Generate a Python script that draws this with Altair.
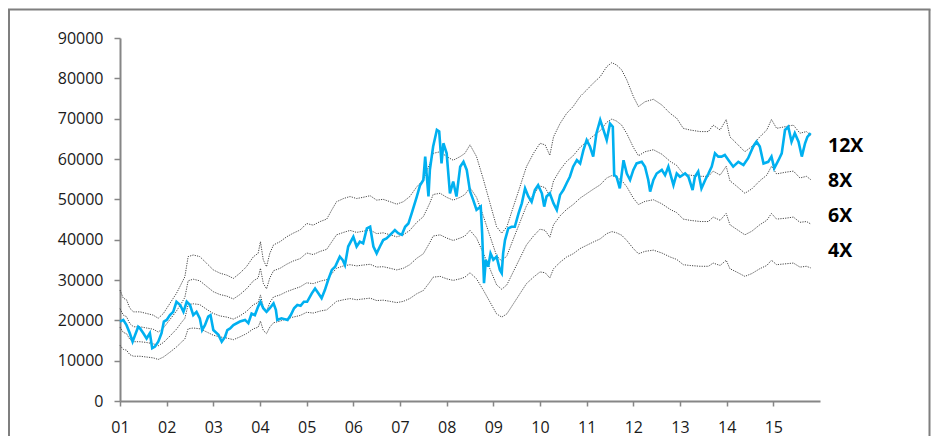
import altair as alt
import pandas as pd

# ---- data ----
band_years = [2001.00, 2001.07, 2001.14, 2001.21, 2001.29, 2001.43, 2001.57, 2001.71, 2001.82, 2001.93,
              2002.07, 2002.21, 2002.32, 2002.39, 2002.46, 2002.57, 2002.71, 2002.86, 2003.00, 2003.14,
              2003.29, 2003.43, 2003.57, 2003.71, 2003.86, 2003.96, 2004.01, 2004.07, 2004.14, 2004.21,
              2004.29, 2004.43, 2004.57, 2004.71, 2004.86, 2005.00, 2005.14, 2005.29, 2005.43, 2005.54,
              2005.64, 2005.79, 2005.93, 2006.07, 2006.21, 2006.36, 2006.50, 2006.64, 2006.79, 2006.93,
              2007.07, 2007.21, 2007.36, 2007.50, 2007.64, 2007.71, 2007.86, 2008.00, 2008.14, 2008.29,
              2008.39, 2008.50, 2008.64, 2008.79, 2008.93, 2009.07, 2009.18, 2009.29, 2009.43, 2009.57,
              2009.71, 2009.86, 2010.00, 2010.11, 2010.21, 2010.29, 2010.43, 2010.57, 2010.71, 2010.86,
              2011.00, 2011.14, 2011.29, 2011.43, 2011.54, 2011.64, 2011.75, 2011.86, 2012.00, 2012.11,
              2012.25, 2012.43, 2012.61, 2012.79, 2012.93, 2013.07, 2013.21, 2013.43, 2013.61, 2013.71,
              2013.86, 2013.99, 2014.07, 2014.21, 2014.39, 2014.54, 2014.71, 2014.86, 2014.96, 2015.07,
              2015.25, 2015.43, 2015.57, 2015.71, 2015.80]

band_12x = [27500, 25500, 25100, 23000, 22100, 22100, 21700, 21300, 20500, 21700,
            24200, 26700, 29200, 30800, 35800, 36200, 35800, 34100, 32500, 31700,
            31200, 30400, 31700, 33300, 35800, 36600, 39500, 35000, 33300, 36600,
            38700, 39500, 40700, 41600, 42400, 44000, 43600, 44500, 45100, 47400,
            49400, 50200, 50700, 50200, 50500, 50900, 49800, 50000, 49400, 48800,
            49400, 50700, 53100, 54800, 58900, 61400, 61800, 60600, 59700, 60600,
            61400, 63500, 60600, 54800, 49000, 43200, 41600, 43200, 48200, 53100,
            58100, 61400, 63900, 63500, 60900, 65500, 68800, 71300, 73000, 75500,
            77100, 78800, 80400, 82900, 83900, 83300, 82100, 79600, 75500, 73000,
            74200, 74800, 73400, 71300, 70100, 67600, 67200, 66800, 66800, 68400,
            67200, 69800, 65500, 63900, 61800, 63100, 65500, 67200, 69800, 67600,
            68000, 68400, 66400, 66800, 65900]

band_8x = [22900, 21300, 20900, 19200, 18400, 18400, 18100, 17800, 17100, 18100,
           20200, 22300, 24300, 25700, 29800, 30200, 29800, 28400, 27100, 26400,
           26000, 25300, 26400, 27800, 29800, 30500, 32900, 29200, 27800, 30500,
           32300, 32900, 33900, 34700, 35300, 36700, 36300, 37100, 37600, 39500,
           41200, 41800, 42300, 41800, 42100, 42400, 41500, 41700, 41200, 40700,
           41200, 42300, 44300, 45700, 49100, 51200, 51500, 50500, 49800, 50500,
           51200, 52900, 50500, 45700, 40800, 36000, 34700, 36000, 40200, 44300,
           48400, 51200, 53300, 52900, 50800, 54600, 57300, 59400, 60800, 62900,
           64300, 65700, 67000, 69100, 69900, 69400, 68400, 66300, 62900, 60800,
           61800, 62300, 61200, 59400, 58400, 56300, 56000, 55700, 55700, 57000,
           56000, 58200, 54600, 53300, 51500, 52600, 54600, 56000, 58200, 56300,
           56700, 57000, 55300, 55700, 54900]

band_6x = [18300, 17000, 16700, 15300, 14700, 14700, 14500, 14200, 13700, 14500,
           16100, 17800, 19500, 20500, 23900, 24100, 23900, 22700, 21700, 21100,
           20800, 20300, 21100, 22200, 23900, 24400, 26300, 23300, 22200, 24400,
           25800, 26300, 27100, 27700, 28300, 29300, 29100, 29700, 30100, 31600,
           32900, 33500, 33800, 33500, 33700, 33900, 33200, 33300, 32900, 32500,
           32900, 33800, 35400, 36500, 39300, 40900, 41200, 40400, 39800, 40400,
           40900, 42300, 40400, 36500, 32700, 28800, 27700, 28800, 32100, 35400,
           38700, 40900, 42600, 42300, 40600, 43700, 45900, 47500, 48700, 50300,
           51400, 52500, 53600, 55300, 55900, 55500, 54700, 53100, 50300, 48700,
           49500, 49900, 48900, 47500, 46700, 45100, 44800, 44500, 44500, 45600,
           44800, 46500, 43700, 42600, 41200, 42100, 43700, 44800, 46500, 45100,
           45300, 45600, 44300, 44500, 43900]

band_4x = [13800, 12800, 12600, 11500, 11100, 11100, 10900, 10700, 10300, 10900,
           12100, 13400, 14600, 15400, 17900, 18100, 17900, 17100, 16300, 15900,
           15600, 15200, 15900, 16700, 17900, 18300, 19800, 17500, 16700, 18300,
           19400, 19800, 20400, 20800, 21200, 22000, 21800, 22300, 22600, 23700,
           24700, 25100, 25400, 25100, 25300, 25500, 24900, 25000, 24700, 24400,
           24700, 25400, 26600, 27400, 29500, 30700, 30900, 30300, 29900, 30300,
           30700, 31800, 30300, 27400, 24500, 21600, 20800, 21600, 24100, 26600,
           29100, 30700, 32000, 31800, 30500, 32800, 34400, 35700, 36500, 37800,
           38600, 39400, 40200, 41500, 42000, 41700, 41100, 39800, 37800, 36500,
           37100, 37400, 36700, 35700, 35100, 33800, 33600, 33400, 33400, 34200,
           33600, 34900, 32800, 32000, 30900, 31600, 32800, 33600, 34900, 33800,
           34000, 34200, 33200, 33400, 33000]

main_years = [2001.00, 2001.07, 2001.14, 2001.21, 2001.27, 2001.39, 2001.43, 2001.50, 2001.57, 2001.64,
              2001.69, 2001.75, 2001.82, 2001.89, 2001.94, 2002.00, 2002.07, 2002.14, 2002.21, 2002.29,
              2002.36, 2002.43, 2002.50, 2002.57, 2002.64, 2002.71, 2002.76, 2002.82, 2002.89, 2002.94,
              2003.00, 2003.11, 2003.18, 2003.25, 2003.30, 2003.36, 2003.43, 2003.57, 2003.68, 2003.75,
              2003.82, 2003.89, 2003.96, 2004.01, 2004.07, 2004.14, 2004.21, 2004.29, 2004.34, 2004.37,
              2004.46, 2004.59, 2004.66, 2004.73, 2004.80, 2004.87, 2004.94, 2005.01, 2005.11, 2005.18,
              2005.25, 2005.32, 2005.39, 2005.46, 2005.54, 2005.61, 2005.71, 2005.77, 2005.82, 2005.89,
              2006.00, 2006.07, 2006.14, 2006.21, 2006.29, 2006.36, 2006.43, 2006.50, 2006.57, 2006.64,
              2006.71, 2006.79, 2006.89, 2006.96, 2007.04, 2007.11, 2007.18, 2007.25, 2007.36, 2007.43,
              2007.50, 2007.54, 2007.57, 2007.61, 2007.64, 2007.71, 2007.79, 2007.84, 2007.89, 2007.93,
              2008.00, 2008.07, 2008.14, 2008.21, 2008.29, 2008.36, 2008.43, 2008.50, 2008.57, 2008.64,
              2008.73, 2008.76, 2008.80, 2008.84, 2008.89, 2008.94, 2009.00, 2009.07, 2009.14, 2009.18,
              2009.21, 2009.25, 2009.32, 2009.39, 2009.46, 2009.54, 2009.61, 2009.68, 2009.75, 2009.82,
              2009.89, 2009.96, 2010.04, 2010.09, 2010.14, 2010.21, 2010.29, 2010.36, 2010.43, 2010.50,
              2010.57, 2010.64, 2010.71, 2010.79, 2010.86, 2010.93, 2011.00, 2011.07, 2011.14, 2011.21,
              2011.29, 2011.36, 2011.43, 2011.50, 2011.56, 2011.59, 2011.64, 2011.71, 2011.79, 2011.86,
              2011.93, 2012.00, 2012.07, 2012.18, 2012.25, 2012.32, 2012.36, 2012.43, 2012.50, 2012.61,
              2012.68, 2012.75, 2012.86, 2012.93, 2013.00, 2013.11, 2013.18, 2013.27, 2013.32, 2013.39,
              2013.46, 2013.54, 2013.61, 2013.68, 2013.75, 2013.82, 2013.89, 2013.96, 2014.04, 2014.14,
              2014.25, 2014.36, 2014.46, 2014.57, 2014.64, 2014.71, 2014.79, 2014.89, 2014.96, 2015.02,
              2015.11, 2015.18, 2015.25, 2015.32, 2015.39, 2015.46, 2015.54, 2015.61, 2015.68, 2015.73,
              2015.80]

main_values = [19700, 20100, 18800, 16800, 14700, 18400, 18000, 16800, 15500, 16800,
               13100, 13500, 14700, 16800, 19700, 20100, 21300, 22100, 24600, 23800,
               22100, 24600, 23800, 21300, 22100, 20500, 17600, 18800, 20900, 21300,
               17600, 16400, 14700, 15900, 17600, 18000, 18800, 19700, 20100, 19300,
               21700, 21300, 23400, 24600, 23000, 22100, 23000, 24200, 22600, 20100,
               20500, 20100, 21300, 23000, 23800, 23600, 24600, 24600, 26700, 27900,
               26700, 25500, 27500, 30000, 32500, 33300, 35800, 35000, 33700, 38300,
               40700, 38300, 39500, 39100, 42800, 43200, 38300, 36600, 38300, 39900,
               40300, 41200, 42400, 41600, 41200, 43200, 44000, 46500, 50700, 53500,
               54800, 60600, 56400, 50700, 57300, 63100, 67200, 66800, 58900, 63900,
               61400, 51500, 54400, 50700, 58100, 59300, 57300, 52000, 49800, 47400,
               48200, 41600, 29200, 35000, 33300, 36600, 35000, 35800, 32500, 31700,
               36600, 39900, 42800, 43200, 43200, 46500, 49000, 52700, 50700, 49400,
               52300, 53500, 51500, 48200, 50700, 51500, 49000, 47400, 51100, 52300,
               54000, 55600, 58100, 59700, 58900, 62200, 64700, 63100, 60600, 66400,
               69700, 67200, 64700, 68800, 68000, 56000, 55600, 52700, 59700, 56400,
               54800, 57300, 58900, 59300, 58100, 54800, 51900, 54800, 56400, 57300,
               56000, 58100, 53500, 56400, 55600, 56400, 55600, 52300, 55600, 56900,
               52700, 54800, 56400, 58100, 61400, 60600, 60600, 61000, 59700, 58100,
               59300, 58500, 60200, 63100, 64300, 63100, 58900, 59300, 60600, 57700,
               59700, 61400, 67200, 68000, 64300, 66400, 64300, 60600, 63900, 65500,
               66400]

band_names = ["12X", "8X", "6X", "4X"]
tick_years = [2001, 2002, 2003, 2004, 2005, 2006, 2007, 2008, 2009, 2010, 2011, 2012, 2013, 2014, 2015]
y_ticks = [0, 10000, 20000, 30000, 40000, 50000, 60000, 70000, 80000, 90000]

# ---- build tables ----
rows = []
for name, vals in zip(band_names, [band_12x, band_8x, band_6x, band_4x]):
    for yr, v in zip(band_years, vals):
        rows.append({"year": yr, "value": v, "band": name})
band_df = pd.DataFrame(rows)
main_df = pd.DataFrame({"year": main_years, "value": main_values})

AX = "#868686"
FONT = "Open Sans"

x_enc = alt.X(
    "year:Q",
    scale=alt.Scale(domain=[2001, 2016], nice=False, zero=False),
    axis=alt.Axis(
        values=tick_years,
        labelExpr="substring(toString(datum.value), 2)",
        title=None, grid=False,
        domainColor=AX, domainWidth=2,
        tickColor=AX, tickWidth=1.5, tickSize=5,
        labelFont=FONT, labelFontSize=16, labelColor="#1a1a1a",
        labelPadding=13, labelFlush=False,
    ),
)
y_enc = alt.Y(
    "value:Q",
    scale=alt.Scale(domain=[0, 90000], nice=False),
    axis=alt.Axis(
        values=y_ticks, format="d", title=None, grid=False,
        domainColor=AX, domainWidth=2,
        tickColor=AX, tickWidth=1.5, tickSize=6,
        labelFont=FONT, labelFontSize=16, labelColor="#1a1a1a",
        labelPadding=11,
    ),
)

bands = alt.Chart(band_df).mark_line(
    color="#333333", strokeWidth=0.9, strokeDash=[1.2, 1.2]
).encode(x=x_enc, y=y_enc, detail="band:N")

main = alt.Chart(main_df).mark_line(
    color="#00B0F0", strokeWidth=2.6
).encode(x="year:Q", y="value:Q")

label_y = {"12X": 114, "8X": 149, "6X": 184, "4X": 219}
labels = []
for name in band_names:
    labels.append(
        alt.Chart(pd.DataFrame({"label": [name]})).mark_text(
            align="left", baseline="alphabetic", font=FONT,
            fontSize=19.5, fontWeight="bold", color="#000000"
        ).encode(x=alt.value(708), y=alt.value(label_y[name]), text="label:N")
    )

one = pd.DataFrame({"a": [0]})
frame_left = alt.Chart(one).mark_rule(color="#7f7f7f", strokeWidth=2).encode(
    x=alt.value(-111), y=alt.value(-28.5), y2=alt.value(400))
frame_right = alt.Chart(one).mark_rule(color="#7f7f7f", strokeWidth=2).encode(
    x=alt.value(809.5), y=alt.value(-28.5), y2=alt.value(400))
frame_top = alt.Chart(one).mark_rule(color="#7f7f7f", strokeWidth=2).encode(
    x=alt.value(-112), x2=alt.value(810.5), y=alt.value(-28.5))

chart = alt.layer(bands, main, *labels, frame_left, frame_right, frame_top).properties(
    width=700, height=363,
    autosize=alt.AutoSizeParams(type="none"),
    padding={"left": 112, "top": 30, "right": 111, "bottom": 35},
    background="white",
).configure_view(strokeWidth=0)

chart.save("out.html", embed_options={"renderer": "svg", "actions": False})
